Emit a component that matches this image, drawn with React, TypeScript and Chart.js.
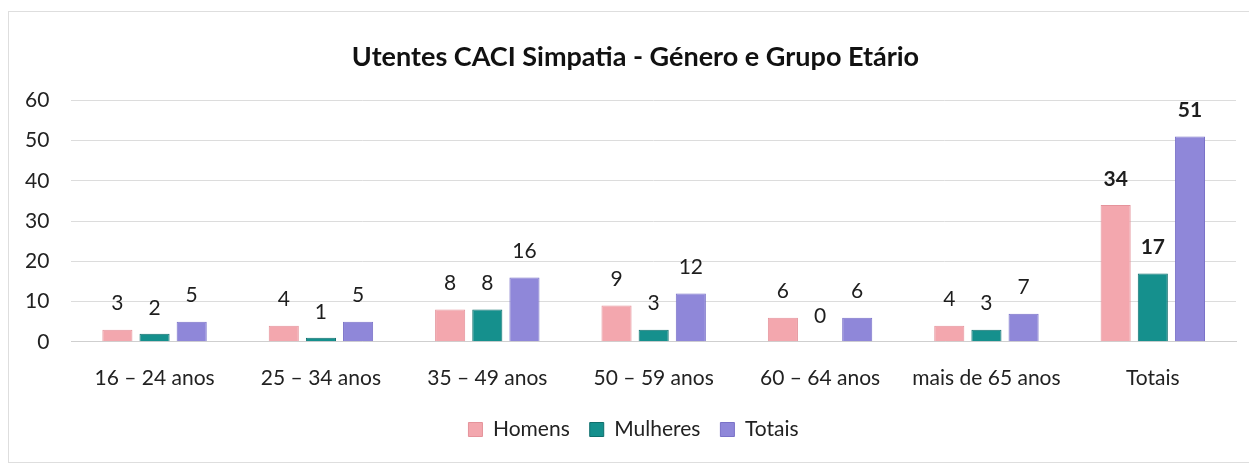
import React, { useEffect, useRef } from "react";
import { Chart, registerables } from "chart.js";

Chart.register(...registerables);

const categories = ["16 – 24 anos", "25 – 34 anos", "35 – 49 anos", "50 – 59 anos", "60 – 64 anos", "mais de 65 anos", "Totais"];
const homens = [3, 4, 8, 9, 6, 4, 34];
const mulheres = [2, 1, 8, 3, 0, 3, 17];
const totais = [5, 5, 16, 12, 6, 7, 51];
const yTicks = [0, 10, 20, 30, 40, 50, 60];
const titleText = "Utentes CACI Simpatia - Género e Grupo Etário";

const FONT = "Lato, 'Open Sans', sans-serif";

const dataLabelPlugin = {
  id: "dataLabels",
  afterDatasetsDraw(chart: any) {
    const ctx = chart.ctx;
    ctx.save();
    ctx.textAlign = "center";
    ctx.textBaseline = "middle";
    ctx.fillStyle = "#1e1e1e";
    chart.data.datasets.forEach((ds: any, di: number) => {
      const meta = chart.getDatasetMeta(di);
      meta.data.forEach((el: any, i: number) => {
        const bold = i === categories.length - 1;
        ctx.font = `${bold ? "bold " : ""}21px ${FONT}`;
        ctx.fillText(String(ds.data[i]), el.x, el.y - 26);
      });
    });
    ctx.restore();
  },
};

// nudge title and legend horizontally, like the original's off-centre layout
const shiftPlugin = {
  id: "shiftBlocks",
  afterLayout(chart: any) {
    if (chart.titleBlock) {
      chart.titleBlock.left += 16;
      chart.titleBlock.right += 16;
    }
    if (chart.legend) {
      chart.legend.left += 14;
      chart.legend.right += 14;
    }
  },
};

export default function App() {
  const ref = useRef<HTMLCanvasElement>(null);
  useEffect(() => {
    if (!ref.current) return;
    const chart = new Chart(ref.current, {
      type: "bar",
      data: {
        labels: categories,
        datasets: [
          { label: "Homens", data: homens, backgroundColor: "#f3a7ae", borderColor: "#e5939b", borderWidth: 1 },
          { label: "Mulheres", data: mulheres, backgroundColor: "#15908d", borderColor: "#0f6f6d", borderWidth: 1 },
          { label: "Totais", data: totais, backgroundColor: "#8f87d9", borderColor: "#7a72c8", borderWidth: 1 },
        ],
      },
      options: {
        responsive: false,
        animation: false,
        layout: { padding: { left: 3, right: 16, top: 41, bottom: 14 } },
        datasets: { bar: { categoryPercentage: 0.67, barPercentage: 0.81 } },
        plugins: {
          title: {
            display: true,
            text: titleText,
            color: "#111",
            font: { family: FONT, size: 27, weight: "bold" },
            padding: { top: 0, bottom: 27 },
          },
          legend: {
            position: "bottom",
            labels: {
              color: "#222",
              font: { family: FONT, size: 21 },
              boxWidth: 14,
              boxHeight: 14,
              padding: 20,
            },
          },
          tooltip: { enabled: false },
        },
        scales: {
          x: {
            grid: { display: false, drawTicks: false },
            border: { display: true, color: "#cfcfcf" },
            ticks: { color: "#222", font: { family: FONT, size: 21 }, padding: 24 },
            afterFit: (scale: any) => {
              scale.height = scale.height - 16;
            },
          },
          y: {
            min: 0,
            max: 60,
            afterBuildTicks: (scale: any) => {
              scale.ticks = yTicks.map((v) => ({ value: v }));
            },
            grid: { color: "#dcdcdc", drawTicks: false },
            border: { display: false },
            ticks: { color: "#222", font: { family: FONT, size: 21 }, padding: 22 },
          },
        },
      },
      plugins: [dataLabelPlugin, shiftPlugin],
    });
    return () => chart.destroy();
  }, []);
  return (
    <div style={{ position: "fixed", left: 0, top: 0, width: 1252, height: 464, background: "#fff" }}>
      <canvas ref={ref} width={1252} height={464} style={{ position: "absolute", left: 0, top: 0 }} />
      <div
        style={{
          position: "absolute",
          left: 8,
          top: 11,
          width: 1240,
          height: 450,
          border: "1px solid #dedede",
          borderRight: "none",
          pointerEvents: "none",
        }}
      />
    </div>
  );
}
